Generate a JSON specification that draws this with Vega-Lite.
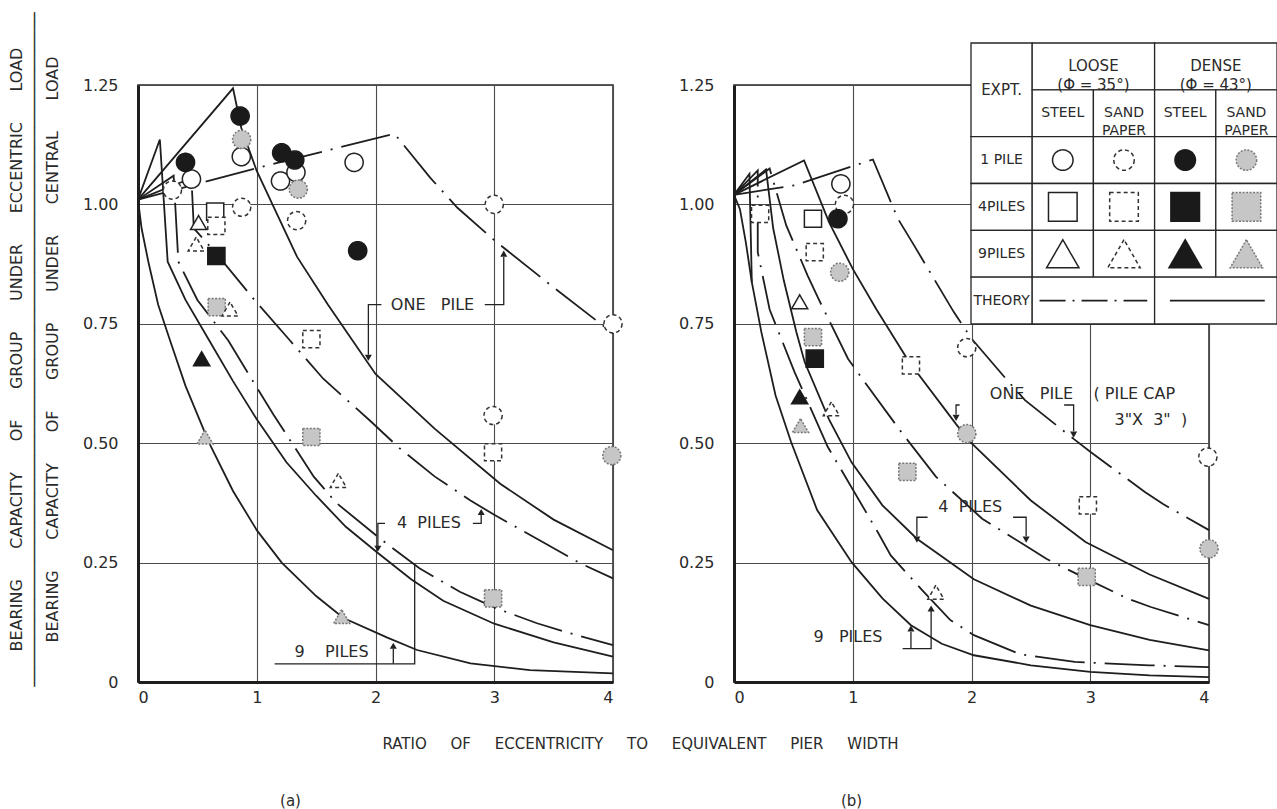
{
"$schema":"https://vega.github.io/schema/vega-lite/v6.json",
"background":"#ffffff",
"padding":{"left":7,"top":11,"right":0,"bottom":0},
"bounds":"flush",
"spacing":121,
"config":{
 "font":"DejaVu Sans",
 "view":{"stroke":"#262626","strokeWidth":1.5},
 "axis":{"grid":true,"gridColor":"#4a4a4a","gridWidth":1.1,"gridOpacity":1,"ticks":false,"domain":true,"domainColor":"#1e1e1e","domainWidth":3,"labelFont":"DejaVu Sans","labelFontSize":16,"labelColor":"#2a2a2a","titleFont":"DejaVu Sans","titleFontWeight":"normal","titleColor":"#2a2a2a"},
 "title":{"font":"DejaVu Sans","fontWeight":"normal","fontSize":15,"color":"#2a2a2a"}
},
"datasets":{
 "curves":[
  {"p":"a","id":"a1L","s":"d","i":0,"x":0,"y":1.01},{"p":"a","id":"a1L","s":"d","i":1,"x":1.0,"y":1.076},{"p":"a","id":"a1L","s":"d","i":2,"x":2.16,"y":1.148},{"p":"a","id":"a1L","s":"d","i":3,"x":2.46,"y":1.056},{"p":"a","id":"a1L","s":"d","i":4,"x":2.69,"y":0.993},{"p":"a","id":"a1L","s":"d","i":5,"x":3.0,"y":0.925},{"p":"a","id":"a1L","s":"d","i":6,"x":3.5,"y":0.826},{"p":"a","id":"a1L","s":"d","i":7,"x":4,"y":0.73},
  {"p":"a","id":"a1D","s":"s","i":0,"x":0,"y":1.01},{"p":"a","id":"a1D","s":"s","i":1,"x":0.8,"y":1.243},{"p":"a","id":"a1D","s":"s","i":2,"x":0.87,"y":1.16},{"p":"a","id":"a1D","s":"s","i":3,"x":1.0,"y":1.07},{"p":"a","id":"a1D","s":"s","i":4,"x":1.34,"y":0.89},{"p":"a","id":"a1D","s":"s","i":5,"x":1.6,"y":0.79},{"p":"a","id":"a1D","s":"s","i":6,"x":2.0,"y":0.645},{"p":"a","id":"a1D","s":"s","i":7,"x":2.5,"y":0.53},{"p":"a","id":"a1D","s":"s","i":8,"x":3.05,"y":0.415},{"p":"a","id":"a1D","s":"s","i":9,"x":3.5,"y":0.34},{"p":"a","id":"a1D","s":"s","i":10,"x":4,"y":0.276},
  {"p":"a","id":"a4L","s":"d","i":0,"x":0,"y":1.01},{"p":"a","id":"a4L","s":"d","i":1,"x":0.45,"y":1.055},{"p":"a","id":"a4L","s":"d","i":2,"x":0.47,"y":0.95},{"p":"a","id":"a4L","s":"d","i":3,"x":0.65,"y":0.9},{"p":"a","id":"a4L","s":"d","i":4,"x":0.98,"y":0.8},{"p":"a","id":"a4L","s":"d","i":5,"x":1.28,"y":0.715},{"p":"a","id":"a4L","s":"d","i":6,"x":1.56,"y":0.635},{"p":"a","id":"a4L","s":"d","i":7,"x":1.95,"y":0.548},{"p":"a","id":"a4L","s":"d","i":8,"x":2.2,"y":0.49},{"p":"a","id":"a4L","s":"d","i":9,"x":2.5,"y":0.43},{"p":"a","id":"a4L","s":"d","i":10,"x":2.8,"y":0.38},{"p":"a","id":"a4L","s":"d","i":11,"x":3.0,"y":0.35},{"p":"a","id":"a4L","s":"d","i":12,"x":3.43,"y":0.29},{"p":"a","id":"a4L","s":"d","i":13,"x":3.72,"y":0.249},{"p":"a","id":"a4L","s":"d","i":14,"x":4,"y":0.217},
  {"p":"a","id":"a4D","s":"s","i":0,"x":0,"y":1.01},{"p":"a","id":"a4D","s":"s","i":1,"x":0.184,"y":1.136},{"p":"a","id":"a4D","s":"s","i":2,"x":0.25,"y":0.88},{"p":"a","id":"a4D","s":"s","i":3,"x":0.4,"y":0.8},{"p":"a","id":"a4D","s":"s","i":4,"x":0.6,"y":0.715},{"p":"a","id":"a4D","s":"s","i":5,"x":0.8,"y":0.63},{"p":"a","id":"a4D","s":"s","i":6,"x":1.0,"y":0.55},{"p":"a","id":"a4D","s":"s","i":7,"x":1.25,"y":0.46},{"p":"a","id":"a4D","s":"s","i":8,"x":1.5,"y":0.39},{"p":"a","id":"a4D","s":"s","i":9,"x":1.75,"y":0.325},{"p":"a","id":"a4D","s":"s","i":10,"x":2.02,"y":0.27},{"p":"a","id":"a4D","s":"s","i":11,"x":2.3,"y":0.215},{"p":"a","id":"a4D","s":"s","i":12,"x":2.57,"y":0.17},{"p":"a","id":"a4D","s":"s","i":13,"x":3.0,"y":0.122},{"p":"a","id":"a4D","s":"s","i":14,"x":3.5,"y":0.083},{"p":"a","id":"a4D","s":"s","i":15,"x":4,"y":0.053},
  {"p":"a","id":"a9D","s":"s","i":0,"x":0,"y":1.01},{"p":"a","id":"a9D","s":"s","i":1,"x":0.03,"y":0.95},{"p":"a","id":"a9D","s":"s","i":2,"x":0.087,"y":0.88},{"p":"a","id":"a9D","s":"s","i":3,"x":0.17,"y":0.79},{"p":"a","id":"a9D","s":"s","i":4,"x":0.27,"y":0.715},{"p":"a","id":"a9D","s":"s","i":5,"x":0.4,"y":0.62},{"p":"a","id":"a9D","s":"s","i":6,"x":0.6,"y":0.5},{"p":"a","id":"a9D","s":"s","i":7,"x":0.8,"y":0.4},{"p":"a","id":"a9D","s":"s","i":8,"x":1.0,"y":0.318},{"p":"a","id":"a9D","s":"s","i":9,"x":1.21,"y":0.25},{"p":"a","id":"a9D","s":"s","i":10,"x":1.5,"y":0.18},{"p":"a","id":"a9D","s":"s","i":11,"x":1.73,"y":0.134},{"p":"a","id":"a9D","s":"s","i":12,"x":2.1,"y":0.093},{"p":"a","id":"a9D","s":"s","i":13,"x":2.35,"y":0.067},{"p":"a","id":"a9D","s":"s","i":14,"x":2.8,"y":0.039},{"p":"a","id":"a9D","s":"s","i":15,"x":3.3,"y":0.025},{"p":"a","id":"a9D","s":"s","i":16,"x":4,"y":0.018},
  {"p":"a","id":"a9L","s":"d","i":0,"x":0,"y":1.01},{"p":"a","id":"a9L","s":"d","i":1,"x":0.3,"y":1.06},{"p":"a","id":"a9L","s":"d","i":2,"x":0.34,"y":0.88},{"p":"a","id":"a9L","s":"d","i":3,"x":0.5,"y":0.8},{"p":"a","id":"a9L","s":"d","i":4,"x":0.76,"y":0.715},{"p":"a","id":"a9L","s":"d","i":5,"x":0.98,"y":0.625},{"p":"a","id":"a9L","s":"d","i":6,"x":1.14,"y":0.56},{"p":"a","id":"a9L","s":"d","i":7,"x":1.48,"y":0.43},{"p":"a","id":"a9L","s":"d","i":8,"x":1.67,"y":0.375},{"p":"a","id":"a9L","s":"d","i":9,"x":2.04,"y":0.3},{"p":"a","id":"a9L","s":"d","i":10,"x":2.37,"y":0.238},{"p":"a","id":"a9L","s":"d","i":11,"x":2.71,"y":0.189},{"p":"a","id":"a9L","s":"d","i":12,"x":3.02,"y":0.154},{"p":"a","id":"a9L","s":"d","i":13,"x":3.36,"y":0.123},{"p":"a","id":"a9L","s":"d","i":14,"x":3.6,"y":0.105},{"p":"a","id":"a9L","s":"d","i":15,"x":4,"y":0.077},
  {"p":"b","id":"b1L","s":"d","i":0,"x":0,"y":1.02},{"p":"b","id":"b1L","s":"d","i":1,"x":0.51,"y":1.04},{"p":"b","id":"b1L","s":"d","i":2,"x":1.17,"y":1.094},{"p":"b","id":"b1L","s":"d","i":3,"x":1.38,"y":0.97},{"p":"b","id":"b1L","s":"d","i":4,"x":1.5,"y":0.921},{"p":"b","id":"b1L","s":"d","i":5,"x":1.85,"y":0.775},{"p":"b","id":"b1L","s":"d","i":6,"x":2.0,"y":0.719},{"p":"b","id":"b1L","s":"d","i":7,"x":2.29,"y":0.635},{"p":"b","id":"b1L","s":"d","i":8,"x":2.45,"y":0.59},{"p":"b","id":"b1L","s":"d","i":9,"x":2.86,"y":0.509},{"p":"b","id":"b1L","s":"d","i":10,"x":3.0,"y":0.482},{"p":"b","id":"b1L","s":"d","i":11,"x":3.46,"y":0.398},{"p":"b","id":"b1L","s":"d","i":12,"x":3.61,"y":0.373},{"p":"b","id":"b1L","s":"d","i":13,"x":4,"y":0.318},
  {"p":"b","id":"b1D","s":"s","i":0,"x":0,"y":1.02},{"p":"b","id":"b1D","s":"s","i":1,"x":0.59,"y":1.092},{"p":"b","id":"b1D","s":"s","i":2,"x":0.8,"y":0.963},{"p":"b","id":"b1D","s":"s","i":3,"x":1.0,"y":0.865},{"p":"b","id":"b1D","s":"s","i":4,"x":1.2,"y":0.78},{"p":"b","id":"b1D","s":"s","i":5,"x":1.475,"y":0.67},{"p":"b","id":"b1D","s":"s","i":6,"x":1.87,"y":0.54},{"p":"b","id":"b1D","s":"s","i":7,"x":2.0,"y":0.5},{"p":"b","id":"b1D","s":"s","i":8,"x":2.5,"y":0.38},{"p":"b","id":"b1D","s":"s","i":9,"x":2.96,"y":0.293},{"p":"b","id":"b1D","s":"s","i":10,"x":3.5,"y":0.225},{"p":"b","id":"b1D","s":"s","i":11,"x":4,"y":0.174},
  {"p":"b","id":"b4L","s":"d","i":0,"x":0,"y":1.02},{"p":"b","id":"b4L","s":"d","i":1,"x":0.3,"y":1.075},{"p":"b","id":"b4L","s":"d","i":2,"x":0.4,"y":0.99},{"p":"b","id":"b4L","s":"d","i":3,"x":0.44,"y":0.956},{"p":"b","id":"b4L","s":"d","i":4,"x":0.62,"y":0.851},{"p":"b","id":"b4L","s":"d","i":5,"x":0.71,"y":0.803},{"p":"b","id":"b4L","s":"d","i":6,"x":0.96,"y":0.677},{"p":"b","id":"b4L","s":"d","i":7,"x":1.1,"y":0.628},{"p":"b","id":"b4L","s":"d","i":8,"x":1.41,"y":0.523},{"p":"b","id":"b4L","s":"d","i":9,"x":1.7,"y":0.43},{"p":"b","id":"b4L","s":"d","i":10,"x":2.09,"y":0.342},{"p":"b","id":"b4L","s":"d","i":11,"x":2.47,"y":0.283},{"p":"b","id":"b4L","s":"d","i":12,"x":2.63,"y":0.258},{"p":"b","id":"b4L","s":"d","i":13,"x":2.97,"y":0.216},{"p":"b","id":"b4L","s":"d","i":14,"x":3.32,"y":0.174},{"p":"b","id":"b4L","s":"d","i":15,"x":3.51,"y":0.157},{"p":"b","id":"b4L","s":"d","i":16,"x":4,"y":0.119},
  {"p":"b","id":"b4D","s":"s","i":0,"x":0,"y":1.02},{"p":"b","id":"b4D","s":"s","i":1,"x":0.27,"y":1.073},{"p":"b","id":"b4D","s":"s","i":2,"x":0.33,"y":0.95},{"p":"b","id":"b4D","s":"s","i":3,"x":0.42,"y":0.84},{"p":"b","id":"b4D","s":"s","i":4,"x":0.525,"y":0.733},{"p":"b","id":"b4D","s":"s","i":5,"x":0.595,"y":0.67},{"p":"b","id":"b4D","s":"s","i":6,"x":0.8,"y":0.55},{"p":"b","id":"b4D","s":"s","i":7,"x":0.99,"y":0.46},{"p":"b","id":"b4D","s":"s","i":8,"x":1.25,"y":0.37},{"p":"b","id":"b4D","s":"s","i":9,"x":1.54,"y":0.3},{"p":"b","id":"b4D","s":"s","i":10,"x":2.02,"y":0.215},{"p":"b","id":"b4D","s":"s","i":11,"x":2.5,"y":0.16},{"p":"b","id":"b4D","s":"s","i":12,"x":3.0,"y":0.119},{"p":"b","id":"b4D","s":"s","i":13,"x":3.5,"y":0.088},{"p":"b","id":"b4D","s":"s","i":14,"x":4,"y":0.066},
  {"p":"b","id":"b9L","s":"d","i":0,"x":0,"y":1.02},{"p":"b","id":"b9L","s":"d","i":1,"x":0.2,"y":1.071},{"p":"b","id":"b9L","s":"d","i":2,"x":0.2,"y":0.9},{"p":"b","id":"b9L","s":"d","i":3,"x":0.3,"y":0.78},{"p":"b","id":"b9L","s":"d","i":4,"x":0.51,"y":0.649},{"p":"b","id":"b9L","s":"d","i":5,"x":0.79,"y":0.492},{"p":"b","id":"b9L","s":"d","i":6,"x":0.93,"y":0.433},{"p":"b","id":"b9L","s":"d","i":7,"x":1.21,"y":0.314},{"p":"b","id":"b9L","s":"d","i":8,"x":1.32,"y":0.265},{"p":"b","id":"b9L","s":"d","i":9,"x":1.6,"y":0.188},{"p":"b","id":"b9L","s":"d","i":10,"x":1.82,"y":0.13},{"p":"b","id":"b9L","s":"d","i":11,"x":2.02,"y":0.098},{"p":"b","id":"b9L","s":"d","i":12,"x":2.41,"y":0.058},{"p":"b","id":"b9L","s":"d","i":13,"x":2.87,"y":0.042},{"p":"b","id":"b9L","s":"d","i":14,"x":3.5,"y":0.035},{"p":"b","id":"b9L","s":"d","i":15,"x":4,"y":0.031},
  {"p":"b","id":"b9D","s":"s","i":0,"x":0,"y":1.02},{"p":"b","id":"b9D","s":"s","i":1,"x":0.13,"y":1.064},{"p":"b","id":"b9D","s":"s","i":2,"x":0.15,"y":0.837},{"p":"b","id":"b9D","s":"s","i":3,"x":0.23,"y":0.733},{"p":"b","id":"b9D","s":"s","i":4,"x":0.35,"y":0.6},{"p":"b","id":"b9D","s":"s","i":5,"x":0.48,"y":0.503},{"p":"b","id":"b9D","s":"s","i":6,"x":0.7,"y":0.36},{"p":"b","id":"b9D","s":"s","i":7,"x":0.99,"y":0.251},{"p":"b","id":"b9D","s":"s","i":8,"x":1.25,"y":0.175},{"p":"b","id":"b9D","s":"s","i":9,"x":1.49,"y":0.119},{"p":"b","id":"b9D","s":"s","i":10,"x":1.75,"y":0.08},{"p":"b","id":"b9D","s":"s","i":11,"x":2.02,"y":0.056},{"p":"b","id":"b9D","s":"s","i":12,"x":2.5,"y":0.035},{"p":"b","id":"b9D","s":"s","i":13,"x":3.0,"y":0.021},{"p":"b","id":"b9D","s":"s","i":14,"x":3.5,"y":0.014},{"p":"b","id":"b9D","s":"s","i":15,"x":4,"y":0.01},
  {"p":"b","id":"b9E","s":"s","i":0,"x":0,"y":1.02},{"p":"b","id":"b9E","s":"s","i":1,"x":0.05,"y":0.99},{"p":"b","id":"b9E","s":"s","i":2,"x":0.1,"y":0.92},{"p":"b","id":"b9E","s":"s","i":3,"x":0.15,"y":0.837}
 ],
 "pts":[
  {"p":"a","n":"1","c":"LS","x":0.45,"y":1.053},{"p":"a","n":"1","c":"LS","x":0.87,"y":1.1},{"p":"a","n":"1","c":"LS","x":1.2,"y":1.049},{"p":"a","n":"1","c":"LS","x":1.33,"y":1.067},{"p":"a","n":"1","c":"LS","x":1.82,"y":1.088},
  {"p":"a","n":"1","c":"LP","x":0.29,"y":1.03},{"p":"a","n":"1","c":"LP","x":0.873,"y":0.994},{"p":"a","n":"1","c":"LP","x":1.336,"y":0.966},{"p":"a","n":"1","c":"LP","x":3.0,"y":1.0},{"p":"a","n":"1","c":"LP","x":4.0,"y":0.75},{"p":"a","n":"1","c":"LP","x":2.99,"y":0.558},
  {"p":"a","n":"1","c":"DS","x":0.4,"y":1.088},{"p":"a","n":"1","c":"DS","x":0.86,"y":1.185},{"p":"a","n":"1","c":"DS","x":1.21,"y":1.108},{"p":"a","n":"1","c":"DS","x":1.32,"y":1.093},{"p":"a","n":"1","c":"DS","x":1.85,"y":0.903},
  {"p":"a","n":"1","c":"DP","x":0.873,"y":1.136},{"p":"a","n":"1","c":"DP","x":1.35,"y":1.032},{"p":"a","n":"1","c":"DP","x":3.99,"y":0.474},
  {"p":"a","n":"4","c":"LS","x":0.65,"y":0.985},
  {"p":"a","n":"4","c":"LP","x":0.66,"y":0.955},{"p":"a","n":"4","c":"LP","x":1.46,"y":0.718},{"p":"a","n":"4","c":"LP","x":2.99,"y":0.481},
  {"p":"a","n":"4","c":"DS","x":0.66,"y":0.892},
  {"p":"a","n":"4","c":"DP","x":0.663,"y":0.785},{"p":"a","n":"4","c":"DP","x":1.46,"y":0.513},{"p":"a","n":"4","c":"DP","x":2.99,"y":0.175},
  {"p":"a","n":"9","c":"LS","x":0.51,"y":0.962},
  {"p":"a","n":"9","c":"LP","x":0.49,"y":0.917},{"p":"a","n":"9","c":"LP","x":0.775,"y":0.781},{"p":"a","n":"9","c":"LP","x":1.687,"y":0.422},
  {"p":"a","n":"9","c":"DS","x":0.536,"y":0.677},
  {"p":"a","n":"9","c":"DP","x":0.564,"y":0.513},{"p":"a","n":"9","c":"DP","x":1.715,"y":0.137},
  {"p":"b","n":"1","c":"LS","x":0.9,"y":1.043},
  {"p":"b","n":"1","c":"LP","x":0.93,"y":1.0},{"p":"b","n":"1","c":"LP","x":1.96,"y":0.7},{"p":"b","n":"1","c":"LP","x":3.99,"y":0.471},
  {"p":"b","n":"1","c":"DS","x":0.875,"y":0.97},
  {"p":"b","n":"1","c":"DP","x":0.89,"y":0.858},{"p":"b","n":"1","c":"DP","x":1.96,"y":0.52},{"p":"b","n":"1","c":"DP","x":4.0,"y":0.279},
  {"p":"b","n":"4","c":"LS","x":0.665,"y":0.97},
  {"p":"b","n":"4","c":"LP","x":0.22,"y":0.98},{"p":"b","n":"4","c":"LP","x":0.68,"y":0.9},{"p":"b","n":"4","c":"LP","x":1.49,"y":0.663},{"p":"b","n":"4","c":"LP","x":2.98,"y":0.37},
  {"p":"b","n":"4","c":"DS","x":0.68,"y":0.677},
  {"p":"b","n":"4","c":"DP","x":0.665,"y":0.722},{"p":"b","n":"4","c":"DP","x":1.46,"y":0.44},{"p":"b","n":"4","c":"DP","x":2.97,"y":0.22},
  {"p":"b","n":"9","c":"LS","x":0.553,"y":0.796},
  {"p":"b","n":"9","c":"LP","x":0.82,"y":0.572},{"p":"b","n":"9","c":"LP","x":1.7,"y":0.188},
  {"p":"b","n":"9","c":"DS","x":0.553,"y":0.597},
  {"p":"b","n":"9","c":"DP","x":0.56,"y":0.537}
 ],
 "labels":[
  {"p":"a","x":2.48,"y":0.79,"t":"ONE\u00a0\u00a0\u00a0PILE"},
  {"p":"a","x":2.45,"y":0.332,"t":"4\u00a0\u00a0PILES"},
  {"p":"a","x":1.63,"y":0.063,"t":"9\u00a0\u00a0\u00a0\u00a0PILES"},
  {"p":"b","x":2.934,"y":0.604,"t":"ONE\u00a0\u00a0\u00a0PILE\u00a0\u00a0\u00a0\u00a0(\u00a0PILE\u00a0CAP"},
  {"p":"b","x":3.51,"y":0.548,"t":"3\"X\u00a0\u00a03\"\u00a0\u00a0)"},
  {"p":"b","x":1.99,"y":0.366,"t":"4\u00a0\u00a0PILES"},
  {"p":"b","x":0.96,"y":0.094,"t":"9\u00a0\u00a0\u00a0PILES"}
 ],
 "leaders":[
  {"p":"a","id":"la1","i":0,"x":2.05,"y":0.79},{"p":"a","id":"la1","i":1,"x":1.94,"y":0.79},{"p":"a","id":"la1","i":2,"x":1.94,"y":0.685},
  {"p":"a","id":"la2","i":0,"x":2.92,"y":0.79},{"p":"a","id":"la2","i":1,"x":3.08,"y":0.79},{"p":"a","id":"la2","i":2,"x":3.08,"y":0.89},
  {"p":"a","id":"la3","i":0,"x":2.08,"y":0.332},{"p":"a","id":"la3","i":1,"x":2.02,"y":0.332},{"p":"a","id":"la3","i":2,"x":2.02,"y":0.285},
  {"p":"a","id":"la4","i":0,"x":2.82,"y":0.332},{"p":"a","id":"la4","i":1,"x":2.89,"y":0.332},{"p":"a","id":"la4","i":2,"x":2.89,"y":0.35},
  {"p":"a","id":"la5","i":0,"x":2.15,"y":0.038},{"p":"a","id":"la5","i":1,"x":2.15,"y":0.07},
  {"p":"a","id":"la6","i":0,"x":1.15,"y":0.038},{"p":"a","id":"la6","i":1,"x":2.33,"y":0.038},{"p":"a","id":"la6","i":2,"x":2.33,"y":0.245},
  {"p":"b","id":"lb1","i":0,"x":1.9,"y":0.58},{"p":"b","id":"lb1","i":1,"x":1.87,"y":0.58},{"p":"b","id":"lb1","i":2,"x":1.87,"y":0.56},
  {"p":"b","id":"lb2","i":0,"x":2.78,"y":0.58},{"p":"b","id":"lb2","i":1,"x":2.86,"y":0.58},{"p":"b","id":"lb2","i":2,"x":2.86,"y":0.525},
  {"p":"b","id":"lb3","i":0,"x":1.63,"y":0.345},{"p":"b","id":"lb3","i":1,"x":1.54,"y":0.345},{"p":"b","id":"lb3","i":2,"x":1.54,"y":0.305},
  {"p":"b","id":"lb4","i":0,"x":2.35,"y":0.345},{"p":"b","id":"lb4","i":1,"x":2.46,"y":0.345},{"p":"b","id":"lb4","i":2,"x":2.46,"y":0.305},
  {"p":"b","id":"lb5","i":0,"x":1.42,"y":0.07},{"p":"b","id":"lb5","i":1,"x":1.66,"y":0.07},{"p":"b","id":"lb5","i":2,"x":1.66,"y":0.15},
  {"p":"b","id":"lb6","i":0,"x":1.49,"y":0.07},{"p":"b","id":"lb6","i":1,"x":1.49,"y":0.105}
 ],
 "arrows":[
  {"p":"a","d":"down","x":1.94,"y":0.679},{"p":"a","d":"up","x":3.08,"y":0.897},{"p":"a","d":"down","x":2.02,"y":0.279},{"p":"a","d":"up","x":2.89,"y":0.356},{"p":"a","d":"up","x":2.15,"y":0.076},
  {"p":"b","d":"down","x":1.87,"y":0.553},{"p":"b","d":"down","x":2.86,"y":0.518},{"p":"b","d":"down","x":1.54,"y":0.298},{"p":"b","d":"down","x":2.46,"y":0.298},{"p":"b","d":"up","x":1.66,"y":0.154},{"p":"b","d":"up","x":1.49,"y":0.112}
 ],
 "tcells":[
  {"c1":"L","c2":"L","r1":"H1","r2":"H2"},{"c1":"LS","c2":"LP","r1":"H1","r2":"H1"},{"c1":"DS","c2":"DP","r1":"H1","r2":"H1"},
  {"c1":"LS","c2":"LS","r1":"H2","r2":"H2"},{"c1":"LP","c2":"LP","r1":"H2","r2":"H2"},{"c1":"DS","c2":"DS","r1":"H2","r2":"H2"},{"c1":"DP","c2":"DP","r1":"H2","r2":"H2"},
  {"c1":"L","c2":"L","r1":"1P","r2":"1P"},{"c1":"LS","c2":"LS","r1":"1P","r2":"1P"},{"c1":"LP","c2":"LP","r1":"1P","r2":"1P"},{"c1":"DS","c2":"DS","r1":"1P","r2":"1P"},{"c1":"DP","c2":"DP","r1":"1P","r2":"1P"},
  {"c1":"L","c2":"L","r1":"4P","r2":"4P"},{"c1":"LS","c2":"LS","r1":"4P","r2":"4P"},{"c1":"LP","c2":"LP","r1":"4P","r2":"4P"},{"c1":"DS","c2":"DS","r1":"4P","r2":"4P"},{"c1":"DP","c2":"DP","r1":"4P","r2":"4P"},
  {"c1":"L","c2":"L","r1":"9P","r2":"9P"},{"c1":"LS","c2":"LS","r1":"9P","r2":"9P"},{"c1":"LP","c2":"LP","r1":"9P","r2":"9P"},{"c1":"DS","c2":"DS","r1":"9P","r2":"9P"},{"c1":"DP","c2":"DP","r1":"9P","r2":"9P"},
  {"c1":"L","c2":"L","r1":"TH","r2":"TH"},{"c1":"LS","c2":"LP","r1":"TH","r2":"TH"},{"c1":"DS","c2":"DP","r1":"TH","r2":"TH"}
 ],
 "ttext":[
  {"k":"v","c":"L","r":"H2","t":"EXPT."},
  {"k":"h","c":"LP","r":"H1","t":"LOOSE\n(Φ = 35°)"},
  {"k":"h","c":"DP","r":"H1","t":"DENSE\n(Φ = 43°)"},
  {"k":"c","c":"LS","r":"H2","t":"STEEL"},
  {"k":"c","c":"LP","r":"H2","t":"SAND\nPAPER"},
  {"k":"c","c":"DS","r":"H2","t":"STEEL"},
  {"k":"c","c":"DP","r":"H2","t":"SAND\nPAPER"},
  {"k":"c","c":"L","r":"1P","t":"1 PILE"},
  {"k":"c","c":"L","r":"4P","t":"4PILES"},
  {"k":"c","c":"L","r":"9P","t":"9PILES"},
  {"k":"c","c":"L","r":"TH","t":"THEORY"}
 ],
 "ttheory":[
  {"c1":"LS","c2":"LP","r":"TH","s":"d"},
  {"c1":"DS","c2":"DP","r":"TH","s":"s"}
 ],
 "tsym":[
  {"n":"1","c":"LS","r":"1P"},{"n":"1","c":"LP","r":"1P"},{"n":"1","c":"DS","r":"1P"},{"n":"1","c":"DP","r":"1P"},
  {"n":"4","c":"LS","r":"4P"},{"n":"4","c":"LP","r":"4P"},{"n":"4","c":"DS","r":"4P"},{"n":"4","c":"DP","r":"4P"},
  {"n":"9","c":"LS","r":"9P"},{"n":"9","c":"LP","r":"9P"},{"n":"9","c":"DS","r":"9P"},{"n":"9","c":"DP","r":"9P"}
 ]
},
"hconcat":[
 {
  "width":475,"height":597,
  "title":{"text":"(a)","orient":"bottom","anchor":"middle","dx":-85,"offset":43},
  "encoding":{
   "x":{"field":"x","type":"quantitative","scale":{"domain":[0,4],"nice":false,"zero":false},
        "axis":{"values":[0,1,2,3,4],"format":"d","labelPadding":7,
                "title":"RATIO\u00a0\u00a0\u00a0\u00a0\u00a0OF\u00a0\u00a0\u00a0\u00a0\u00a0ECCENTRICITY\u00a0\u00a0\u00a0\u00a0\u00a0TO\u00a0\u00a0\u00a0\u00a0\u00a0EQUIVALENT\u00a0\u00a0\u00a0\u00a0\u00a0PIER\u00a0\u00a0\u00a0\u00a0\u00a0WIDTH","titleFontSize":15,"titleX":502,"titleY":61,"titleAlign":"center","titleBaseline":"middle"}},
   "y":{"field":"y","type":"quantitative","scale":{"domain":[0,1.25],"nice":false,"zero":false},
        "axis":{"values":[0,0.25,0.5,0.75,1,1.25],"labelExpr":"datum.value == 0 ? '0' : format(datum.value, '.2f')","labelPadding":20,"minExtent":55,"maxExtent":55,
                "title":["BEARING\u00a0\u00a0\u00a0\u00a0\u00a0\u00a0CAPACITY\u00a0\u00a0\u00a0\u00a0\u00a0\u00a0OF\u00a0\u00a0\u00a0\u00a0\u00a0\u00a0GROUP\u00a0\u00a0\u00a0\u00a0\u00a0\u00a0UNDER\u00a0\u00a0\u00a0\u00a0\u00a0\u00a0ECCENTRIC\u00a0\u00a0\u00a0\u00a0\u00a0\u00a0LOAD","──────────────────────────────────────────────────────────────────────","BEARING\u00a0\u00a0\u00a0\u00a0\u00a0\u00a0CAPACITY\u00a0\u00a0\u00a0\u00a0\u00a0\u00a0OF\u00a0\u00a0\u00a0\u00a0\u00a0\u00a0GROUP\u00a0\u00a0\u00a0\u00a0\u00a0\u00a0UNDER\u00a0\u00a0\u00a0\u00a0\u00a0\u00a0CENTRAL\u00a0\u00a0\u00a0\u00a0\u00a0\u00a0LOAD"],
                "titleFontSize":16,"titleLineHeight":18,"titlePadding":23,"titleY":264}}
  },
  "layer":[
   {"data":{"name":"curves"},"transform":[{"filter":"datum.p == 'a' && datum.s == 's'"}],"mark":{"type":"line","stroke":"#1e1e1e","strokeWidth":1.8},"encoding":{"detail":{"field":"id"},"order":{"field":"i","type":"quantitative"}}},
   {"data":{"name":"curves"},"transform":[{"filter":"datum.p == 'a' && datum.s == 'd'"}],"mark":{"type":"line","stroke":"#1e1e1e","strokeWidth":1.8,"strokeDash":[50,9,2,9]},"encoding":{"detail":{"field":"id"},"order":{"field":"i","type":"quantitative"}}},
   {"data":{"name":"leaders"},"transform":[{"filter":"datum.p == 'a'"}],"mark":{"type":"line","stroke":"#222","strokeWidth":1.3},"encoding":{"detail":{"field":"id"},"order":{"field":"i","type":"quantitative"}}},
   {"data":{"name":"arrows"},"transform":[{"filter":"datum.p == 'a' && datum.d == 'up'"}],"mark":{"type":"point","shape":"triangle-up","size":50,"filled":true,"color":"#222","opacity":1}},
   {"data":{"name":"arrows"},"transform":[{"filter":"datum.p == 'a' && datum.d == 'down'"}],"mark":{"type":"point","shape":"triangle-down","size":50,"filled":true,"color":"#222","opacity":1}},
   {"data":{"name":"pts"},"transform":[{"filter":"datum.p == 'a'"}],"mark":{"type":"point","filled":true,"opacity":1,"strokeWidth":1.5},
    "encoding":{
     "shape":{"field":"n","type":"nominal","scale":{"domain":["1","4","9"],"range":["circle","square","triangle-up"]},"legend":null},
     "size":{"field":"n","type":"ordinal","scale":{"domain":["1","4","9"],"range":[330,260,300]},"legend":null},
     "fill":{"field":"c","type":"nominal","scale":{"domain":["LS","LP","DS","DP"],"range":["#ffffff","#ffffff","#1a1a1a","#c6c6c6"]},"legend":null},
     "stroke":{"field":"c","type":"nominal","scale":{"domain":["LS","LP","DS","DP"],"range":["#222222","#333333","#1a1a1a","#777777"]},"legend":null},
     "strokeDash":{"field":"c","type":"nominal","scale":{"domain":["LS","LP","DS","DP"],"range":[[1,0],[4,3],[1,0],[2,1.5]]},"legend":null}}},
   {"data":{"name":"labels"},"transform":[{"filter":"datum.p == 'a'"}],"mark":{"type":"text","fontSize":16,"color":"#2a2a2a","align":"center","baseline":"middle"},"encoding":{"text":{"field":"t"}}}
  ]
 },
 {
  "width":475,"height":597,
  "title":{"text":"(b)","orient":"bottom","anchor":"middle","dx":-120,"offset":89},
  "layer":[
   {
    "encoding":{
     "x":{"field":"x","type":"quantitative","scale":{"domain":[0,4],"nice":false,"zero":false},"axis":{"values":[0,1,2,3,4],"format":"d","labelPadding":7,"title":null}},
     "y":{"field":"y","type":"quantitative","scale":{"domain":[0,1.25],"nice":false,"zero":false},"axis":{"values":[0,0.25,0.5,0.75,1,1.25],"labelExpr":"datum.value == 0 ? '0' : format(datum.value, '.2f')","labelPadding":20,"title":null}}
    },
    "layer":[
     {"data":{"name":"curves"},"transform":[{"filter":"datum.p == 'b' && datum.s == 's'"}],"mark":{"type":"line","stroke":"#1e1e1e","strokeWidth":1.8},"encoding":{"detail":{"field":"id"},"order":{"field":"i","type":"quantitative"}}},
     {"data":{"name":"curves"},"transform":[{"filter":"datum.p == 'b' && datum.s == 'd'"}],"mark":{"type":"line","stroke":"#1e1e1e","strokeWidth":1.8,"strokeDash":[50,9,2,9]},"encoding":{"detail":{"field":"id"},"order":{"field":"i","type":"quantitative"}}},
     {"data":{"name":"leaders"},"transform":[{"filter":"datum.p == 'b'"}],"mark":{"type":"line","stroke":"#222","strokeWidth":1.3},"encoding":{"detail":{"field":"id"},"order":{"field":"i","type":"quantitative"}}},
     {"data":{"name":"arrows"},"transform":[{"filter":"datum.p == 'b' && datum.d == 'up'"}],"mark":{"type":"point","shape":"triangle-up","size":50,"filled":true,"color":"#222","opacity":1}},
     {"data":{"name":"arrows"},"transform":[{"filter":"datum.p == 'b' && datum.d == 'down'"}],"mark":{"type":"point","shape":"triangle-down","size":50,"filled":true,"color":"#222","opacity":1}},
     {"data":{"name":"pts"},"transform":[{"filter":"datum.p == 'b'"}],"mark":{"type":"point","filled":true,"opacity":1,"strokeWidth":1.5},
      "encoding":{
       "shape":{"field":"n","type":"nominal","scale":{"domain":["1","4","9"],"range":["circle","square","triangle-up"]},"legend":null},
       "size":{"field":"n","type":"ordinal","scale":{"domain":["1","4","9"],"range":[330,260,300]},"legend":null},
       "fill":{"field":"c","type":"nominal","scale":{"domain":["LS","LP","DS","DP"],"range":["#ffffff","#ffffff","#1a1a1a","#c6c6c6"]},"legend":null},
       "stroke":{"field":"c","type":"nominal","scale":{"domain":["LS","LP","DS","DP"],"range":["#222222","#333333","#1a1a1a","#777777"]},"legend":null},
       "strokeDash":{"field":"c","type":"nominal","scale":{"domain":["LS","LP","DS","DP"],"range":[[1,0],[4,3],[1,0],[2,1.5]]},"legend":null}}},
     {"data":{"name":"labels"},"transform":[{"filter":"datum.p == 'b'"}],"mark":{"type":"text","fontSize":16,"color":"#2a2a2a","align":"center","baseline":"middle"},"encoding":{"text":{"field":"t"}}}
    ]
   },
   {
    "layer":[
     {"data":{"name":"tcells"},"mark":{"type":"rect","fill":"#ffffff","stroke":"#262626","strokeWidth":1.3},
      "encoding":{
       "x":{"field":"c1","type":"nominal","bandPosition":0,"scale":{"type":"band","domain":["L","LS","LP","DS","DP"],"range":[237,543],"paddingInner":0,"paddingOuter":0},"axis":null},
       "x2":{"field":"c2","bandPosition":1},
       "y":{"field":"r1","type":"nominal","bandPosition":0,"scale":{"type":"band","domain":["H1","H2","1P","4P","9P","TH"],"range":[-42,239],"paddingInner":0,"paddingOuter":0},"axis":null},
       "y2":{"field":"r2","bandPosition":1}}},
     {"data":{"name":"ttext"},"transform":[{"filter":"datum.k == 'c'"}],"mark":{"type":"text","fontSize":14,"lineBreak":"\n","lineHeight":18,"color":"#2a2a2a","align":"center","baseline":"middle"},
      "encoding":{
       "x":{"field":"c","type":"nominal","bandPosition":0.5,"scale":{"type":"band","domain":["L","LS","LP","DS","DP"],"range":[237,543],"paddingInner":0,"paddingOuter":0},"axis":null},
       "y":{"field":"r","type":"nominal","bandPosition":0.5,"scale":{"type":"band","domain":["H1","H2","1P","4P","9P","TH"],"range":[-42,239],"paddingInner":0,"paddingOuter":0},"axis":null},
       "text":{"field":"t"}}},
     {"data":{"name":"ttext"},"transform":[{"filter":"datum.k == 'h'"}],"mark":{"type":"text","fontSize":15,"lineBreak":"\n","lineHeight":19,"color":"#2a2a2a","align":"center","baseline":"middle"},
      "encoding":{
       "x":{"field":"c","type":"nominal","bandPosition":0,"scale":{"type":"band","domain":["L","LS","LP","DS","DP"],"range":[237,543],"paddingInner":0,"paddingOuter":0},"axis":null},
       "y":{"field":"r","type":"nominal","bandPosition":0.5,"scale":{"type":"band","domain":["H1","H2","1P","4P","9P","TH"],"range":[-42,239],"paddingInner":0,"paddingOuter":0},"axis":null},
       "text":{"field":"t"}}},
     {"data":{"name":"ttext"},"transform":[{"filter":"datum.k == 'v'"}],"mark":{"type":"text","fontSize":15,"color":"#2a2a2a","align":"center","baseline":"middle"},
      "encoding":{
       "x":{"field":"c","type":"nominal","bandPosition":0.5,"scale":{"type":"band","domain":["L","LS","LP","DS","DP"],"range":[237,543],"paddingInner":0,"paddingOuter":0},"axis":null},
       "y":{"field":"r","type":"nominal","bandPosition":0,"scale":{"type":"band","domain":["H1","H2","1P","4P","9P","TH"],"range":[-42,239],"paddingInner":0,"paddingOuter":0},"axis":null},
       "text":{"field":"t"}}},
     {"data":{"name":"ttheory"},"transform":[{"filter":"datum.s == 'd'"}],"mark":{"type":"rule","color":"#1e1e1e","strokeWidth":1.8,"strokeDash":[26,7,2,7]},
      "encoding":{
       "x":{"field":"c1","type":"nominal","bandPosition":0.12,"scale":{"type":"band","domain":["L","LS","LP","DS","DP"],"range":[237,543],"paddingInner":0,"paddingOuter":0},"axis":null},
       "x2":{"field":"c2","bandPosition":0.88},
       "y":{"field":"r","type":"nominal","bandPosition":0.5,"scale":{"type":"band","domain":["H1","H2","1P","4P","9P","TH"],"range":[-42,239],"paddingInner":0,"paddingOuter":0},"axis":null}}},
     {"data":{"name":"ttheory"},"transform":[{"filter":"datum.s == 's'"}],"mark":{"type":"rule","color":"#1e1e1e","strokeWidth":1.8},
      "encoding":{
       "x":{"field":"c1","type":"nominal","bandPosition":0.25,"scale":{"type":"band","domain":["L","LS","LP","DS","DP"],"range":[237,543],"paddingInner":0,"paddingOuter":0},"axis":null},
       "x2":{"field":"c2","bandPosition":0.8},
       "y":{"field":"r","type":"nominal","bandPosition":0.5,"scale":{"type":"band","domain":["H1","H2","1P","4P","9P","TH"],"range":[-42,239],"paddingInner":0,"paddingOuter":0},"axis":null}}},
     {"data":{"name":"tsym"},"transform":[{"filter":"datum.n == '1'"}],"mark":{"type":"point","shape":"circle","size":420,"filled":true,"opacity":1,"strokeWidth":1.5},
      "encoding":{
       "x":{"field":"c","type":"nominal","bandPosition":0.5,"scale":{"type":"band","domain":["L","LS","LP","DS","DP"],"range":[237,543],"paddingInner":0,"paddingOuter":0},"axis":null},
       "y":{"field":"r","type":"nominal","bandPosition":0.5,"scale":{"type":"band","domain":["H1","H2","1P","4P","9P","TH"],"range":[-42,239],"paddingInner":0,"paddingOuter":0},"axis":null},
       "fill":{"field":"c","type":"nominal","scale":{"domain":["LS","LP","DS","DP"],"range":["#ffffff","#ffffff","#1a1a1a","#c6c6c6"]},"legend":null},
       "stroke":{"field":"c","type":"nominal","scale":{"domain":["LS","LP","DS","DP"],"range":["#222222","#333333","#1a1a1a","#777777"]},"legend":null},
       "strokeDash":{"field":"c","type":"nominal","scale":{"domain":["LS","LP","DS","DP"],"range":[[1,0],[4,3],[1,0],[2,1.5]]},"legend":null}}},
     {"data":{"name":"tsym"},"transform":[{"filter":"datum.n == '4'"}],"mark":{"type":"point","shape":"square","size":820,"filled":true,"opacity":1,"strokeWidth":1.5},
      "encoding":{
       "x":{"field":"c","type":"nominal","bandPosition":0.5,"scale":{"type":"band","domain":["L","LS","LP","DS","DP"],"range":[237,543],"paddingInner":0,"paddingOuter":0},"axis":null},
       "y":{"field":"r","type":"nominal","bandPosition":0.5,"scale":{"type":"band","domain":["H1","H2","1P","4P","9P","TH"],"range":[-42,239],"paddingInner":0,"paddingOuter":0},"axis":null},
       "fill":{"field":"c","type":"nominal","scale":{"domain":["LS","LP","DS","DP"],"range":["#ffffff","#ffffff","#1a1a1a","#c6c6c6"]},"legend":null},
       "stroke":{"field":"c","type":"nominal","scale":{"domain":["LS","LP","DS","DP"],"range":["#222222","#333333","#1a1a1a","#777777"]},"legend":null},
       "strokeDash":{"field":"c","type":"nominal","scale":{"domain":["LS","LP","DS","DP"],"range":[[1,0],[4,3],[1,0],[2,1.5]]},"legend":null}}},
     {"data":{"name":"tsym"},"transform":[{"filter":"datum.n == '9'"}],"mark":{"type":"point","shape":"triangle-up","size":1050,"filled":true,"opacity":1,"strokeWidth":1.5},
      "encoding":{
       "x":{"field":"c","type":"nominal","bandPosition":0.5,"scale":{"type":"band","domain":["L","LS","LP","DS","DP"],"range":[237,543],"paddingInner":0,"paddingOuter":0},"axis":null},
       "y":{"field":"r","type":"nominal","bandPosition":0.5,"scale":{"type":"band","domain":["H1","H2","1P","4P","9P","TH"],"range":[-42,239],"paddingInner":0,"paddingOuter":0},"axis":null},
       "fill":{"field":"c","type":"nominal","scale":{"domain":["LS","LP","DS","DP"],"range":["#ffffff","#ffffff","#1a1a1a","#c6c6c6"]},"legend":null},
       "stroke":{"field":"c","type":"nominal","scale":{"domain":["LS","LP","DS","DP"],"range":["#222222","#333333","#1a1a1a","#777777"]},"legend":null},
       "strokeDash":{"field":"c","type":"nominal","scale":{"domain":["LS","LP","DS","DP"],"range":[[1,0],[4,3],[1,0],[2,1.5]]},"legend":null}}}
    ]
   }
  ],
  "resolve":{"scale":{"x":"independent","y":"independent"}}
 }
]
}
